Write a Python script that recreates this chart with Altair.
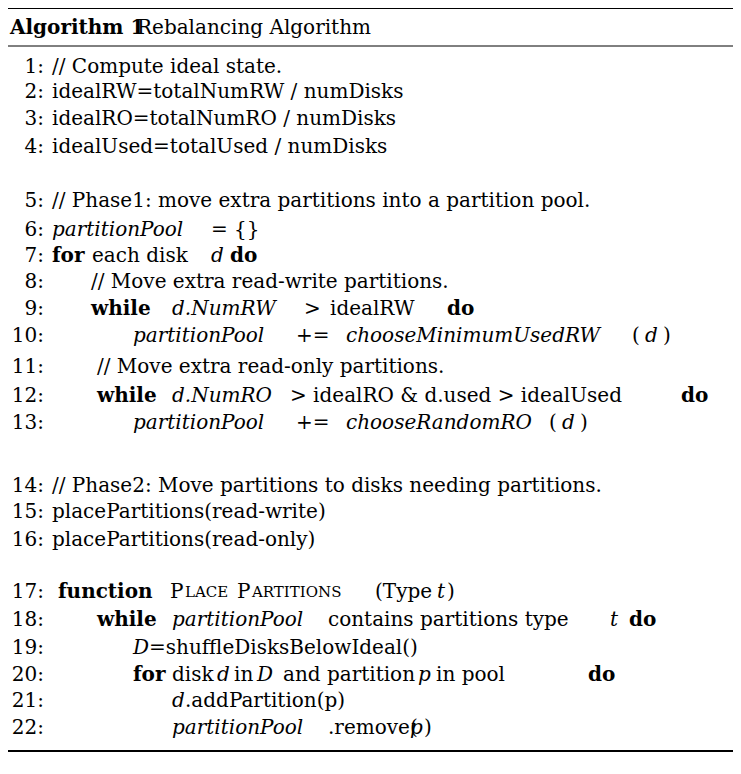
import altair as alt
import pandas as pd

# 算法框：每列 = 行號、y 位置、片段 (x, 文字, 樣式)
FONT = "DejaVu Serif"
FS = 20

title_segments = [(10, "Algorithm 1", "b"), (137, "Rebalancing Algorithm", "n")]
title_y = 28

line_y = [67, 92, 119, 147, 201, 230, 256, 282, 309, 336, 367, 396, 423,
          486, 512, 540, 592, 620, 648, 675, 701, 728]

line_segments = [
    [(52, "// Compute ideal state.", "n")],
    [(52, "idealRW=totalNumRW / numDisks", "n")],
    [(52, "idealRO=totalNumRO / numDisks", "n")],
    [(52, "idealUsed=totalUsed / numDisks", "n")],
    [(52, "// Phase1: move extra partitions into a partition pool.", "n")],
    [(52, "partitionPool", "i"), (211, "= {}", "n")],
    [(52, "for", "b"), (92, "each disk", "n"), (211, "d", "i"), (230, "do", "b")],
    [(91, "// Move extra read-write partitions.", "n")],
    [(91, "while", "b"), (172, "d.NumRW", "i"), (304, ">", "n"), (330, "idealRW", "n"), (447, "do", "b")],
    [(133, "partitionPool", "i"), (296, "+=", "n"), (346, "chooseMinimumUsedRW", "i"),
     (632, "(", "n"), (645, "d", "i"), (663, ")", "n")],
    [(97, "// Move extra read-only partitions.", "n")],
    [(97, "while", "b"), (172, "d.NumRO", "i"), (290, "> idealRO & d.used > idealUsed", "n"), (681, "do", "b")],
    [(133, "partitionPool", "i"), (296, "+=", "n"), (346, "chooseRandomRO", "i"),
     (549, "(", "n"), (562, "d", "i"), (580, ")", "n")],
    [(52, "// Phase2: Move partitions to disks needing partitions.", "n")],
    [(52, "placePartitions(read-write)", "n")],
    [(52, "placePartitions(read-only)", "n")],
    [(58, "function", "b"), (170, "P", "n"), (185, "LACE", "s"), (237, "P", "n"), (252, "ARTITIONS", "s"),
     (375, "(Type", "n"), (437, "t", "i"), (447, ")", "n")],
    [(97, "while", "b"), (172, "partitionPool", "i"), (328, "contains partitions type", "n"),
     (610, "t", "i"), (629, "do", "b")],
    [(133, "D", "i"), (149, "=shuffleDisksBelowIdeal()", "n")],
    [(133, "for", "b"), (172, "disk", "n"), (217, "d", "i"), (234, "in", "n"), (257, "D", "i"),
     (283, "and partition", "n"), (418, "p", "i"), (436, "in pool", "n"), (588, "do", "b")],
    [(172, "d", "i"), (185, ".addPartition(p)", "n")],
    [(172, "partitionPool", "i"), (328, ".remove(", "n"), (410, "p", "i"), (424, ")", "n")],
]

rule_y = [8, 46, 751]
rule_w = [2, 1, 2]

rows = []
for x, t, s in title_segments:
    rows.append({"x": x, "y": title_y, "t": t, "s": s, "a": "left"})
for i, (y, segs) in enumerate(zip(line_y, line_segments), start=1):
    rows.append({"x": 44, "y": y, "t": f"{i}:", "s": "n", "a": "right"})
    for x, t, s in segs:
        rows.append({"x": x, "y": y, "t": t, "s": s, "a": "left"})
df = pd.DataFrame(rows)

xs = alt.Scale(domain=[8, 733])
ys = alt.Scale(domain=[8, 766], reverse=True)


def text_layer(style, align, size=FS):
    d = df[(df.s == style) & (df.a == align)]
    return alt.Chart(d).mark_text(
        align=align, baseline="middle", font=FONT, fontSize=size,
        fontWeight="bold" if style == "b" else "normal",
        fontStyle="italic" if style == "i" else "normal", color="black",
    ).encode(x=alt.X("x:Q", scale=xs, axis=None), y=alt.Y("y:Q", scale=ys, axis=None), text="t:N")


rules = alt.Chart(pd.DataFrame({"y": rule_y, "w": rule_w, "x0": 8, "x1": 733})).mark_rule(color="black").encode(
    x=alt.X("x0:Q", scale=xs, axis=None), x2="x1:Q",
    y=alt.Y("y:Q", scale=ys, axis=None),
    strokeWidth=alt.StrokeWidth("w:Q", scale=None),
)

layers = [rules, text_layer("n", "right")]
for st in ["n", "b", "i"]:
    layers.append(text_layer(st, "left"))
layers.append(text_layer("s", "left", size=15))

chart = alt.layer(*layers).properties(
    width=725, height=758, padding=0, autosize=alt.AutoSizeParams(type="none")
).configure_view(stroke=None)

chart.save("out.html", embed_options={"renderer": "svg", "actions": False})
